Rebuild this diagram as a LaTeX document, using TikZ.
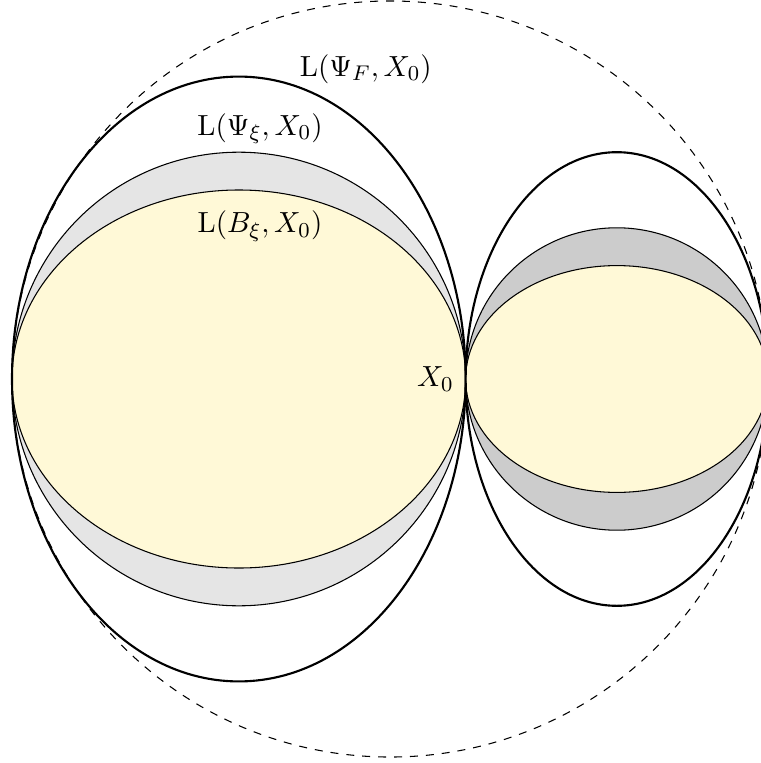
\documentclass[tikz,border=0pt]{standalone}
\definecolor{lemon}{RGB}{255,249,215}
\tikzset{
  outerline/.style={thick},
  bandfill/.style={draw=black, line width=0.4pt, fill=#1},
  hull/.style={dashed, line width=0.4pt},
  lbl/.style={inner sep=0pt, font=\fontsize{10.95}{13}\selectfont}
}
\begin{document}
\begin{tikzpicture}
\useasboundingbox (-6.159,-5.079) rectangle (3.894,5.013);
\coordinate (X0) at (0,0);
\coordinate (cl) at (-3,0);
\coordinate (cr) at (2,0);
\coordinate (hc) at (-1,0);
% left family
\path[bandfill=gray!20] (cl) ellipse [x radius=3, y radius=3];
\path[bandfill=lemon] (cl) ellipse [x radius=3, y radius=2.5];
\draw[outerline] (cl) ellipse [x radius=3, y radius=4];
% right family
\path[bandfill=gray!40] (cr) ellipse [x radius=2, y radius=2];
\path[bandfill=lemon] (cr) ellipse [x radius=2, y radius=1.5];
\draw[outerline] (cr) ellipse [x radius=2, y radius=3];
% enclosing circle
\draw[hull] (hc) circle [radius=5];
% labels
\node[lbl] (lF) at (-1.32,4.10) {$\mathrm{L}(\Psi_F,X_0)$};
\node[lbl] (lPsi) at (-2.72,3.31) {$\mathrm{L}(\Psi_\xi,X_0)$};
\node[lbl] (lB) at (-2.72,2.02) {$\mathrm{L}(B_\xi,X_0)$};
\node[lbl] (lX) at (-0.40,0.0) {$X_0$};
\end{tikzpicture}
\end{document}
